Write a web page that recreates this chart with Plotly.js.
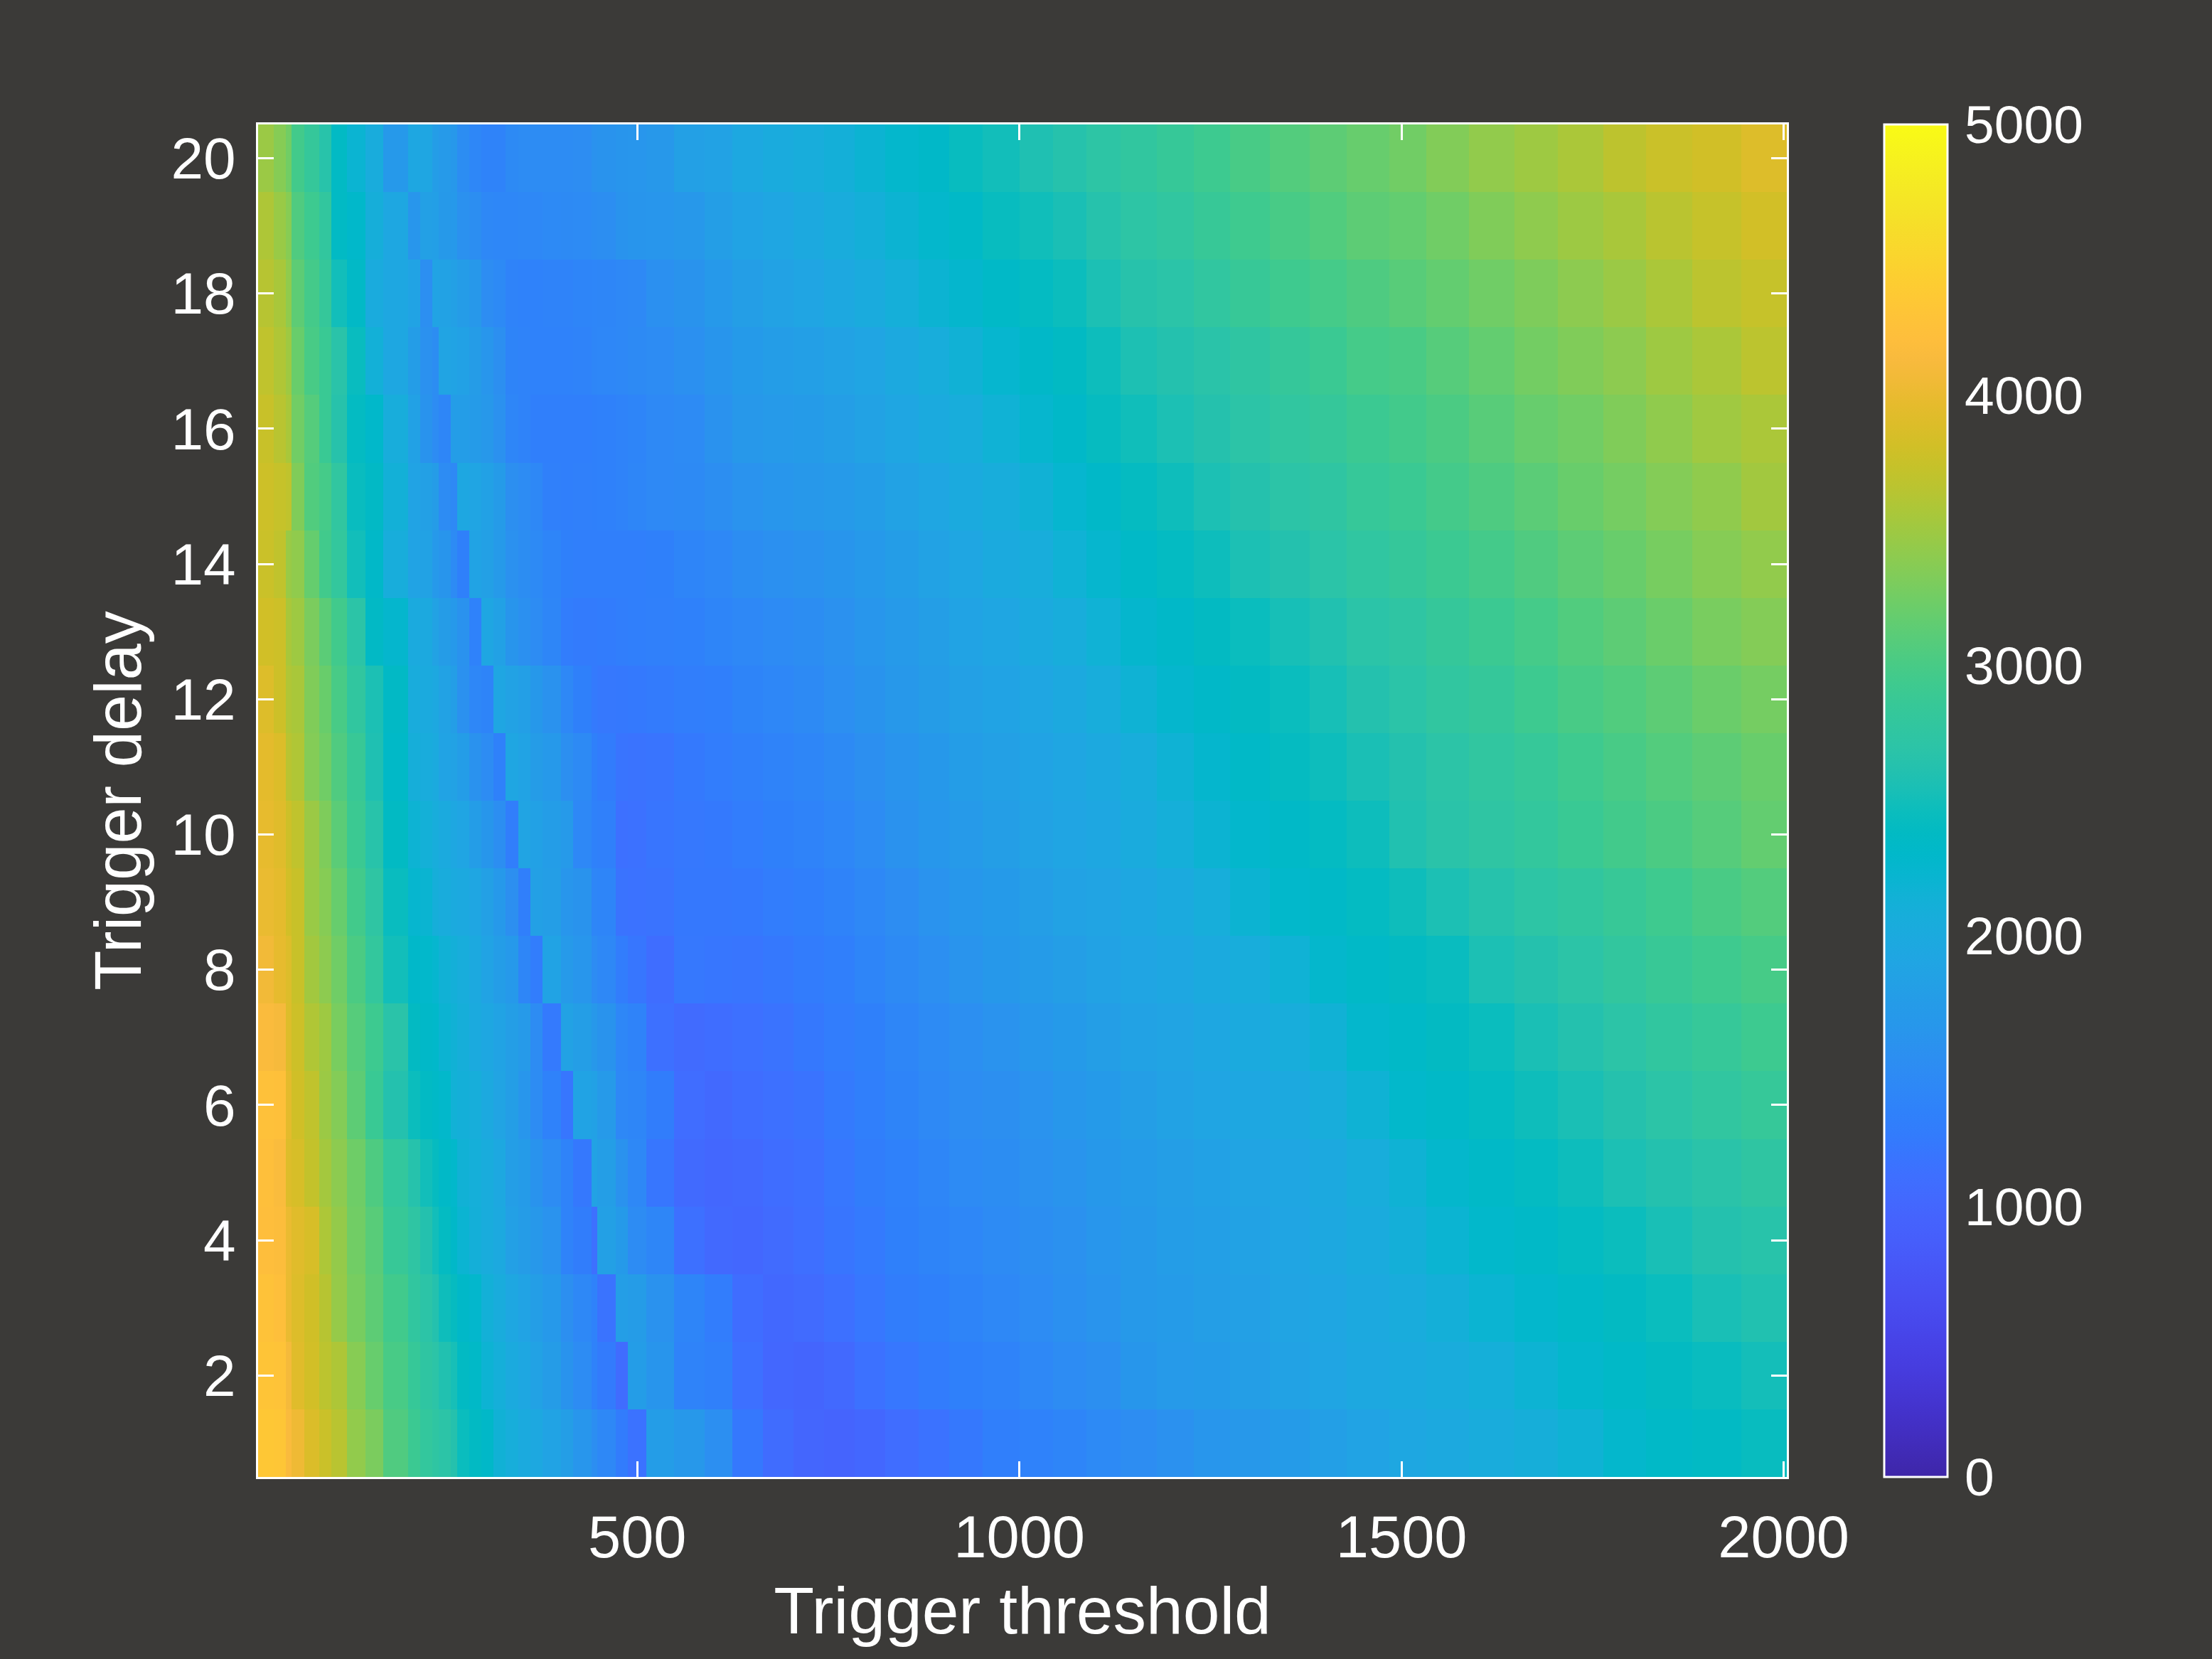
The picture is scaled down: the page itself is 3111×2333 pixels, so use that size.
<!DOCTYPE html>
<html>
<head>
<meta charset="utf-8">
<script src="https://cdn.plot.ly/plotly-3.0.1.min.js"></script>
<style>html,body{margin:0;padding:0;background:#3b3a38;}</style>
</head>
<body>
<div id="chart" style="width:3111px;height:2333px;"></div>
<script>
var thresholdEdges = [4,24,40,48,64,84,100,120,144,168,200,216,232,240,256,264,280,296,312,328,344,360,376,400,416,440,448,472,488,512,548,588,624,664,704,744,784,824,868,908,952,1000,1044,1088,1132,1180,1228,1276,1328,1380,1428,1484,1532,1588,1648,1704,1764,1820,1880,1944,2004];
var delays = [1,2,3,4,5,6,7,8,9,10,11,12,13,14,15,16,17,18,19,20];

var delay01 = [4340,4330,4150,4040,3880,3760,3650,3430,3300,3050,2900,2800,2750,2700,2630,2450,2380,2320,2150,2080,2000,1960,1880,1800,1650,1540,1450,1270,1150,1780,1680,1550,1230,1070,990,960,1000,1080,1150,1230,1310,1360,1400,1470,1520,1590,1650,1680,1740,1810,1880,1950,1990,2040,2090,2170,2270,2330,2370,2430];
var delay02 = [4300,4290,4100,3920,3820,3670,3590,3370,3190,3000,2850,2750,2700,2600,2530,2380,2330,2180,2100,2000,1950,1860,1760,1620,1500,1360,1260,1070,1780,1640,1380,1330,1120,1010,980,1030,1140,1210,1270,1340,1380,1440,1500,1560,1660,1720,1740,1800,1860,1910,1960,2000,2050,2100,2180,2270,2330,2390,2440,2510];
var delay03 = [4270,4230,4000,3900,3800,3640,3450,3280,3130,2950,2780,2700,2620,2480,2420,2320,2280,2130,2040,1950,1880,1790,1700,1560,1440,1360,1160,1790,1760,1600,1400,1280,1090,1020,1060,1120,1210,1290,1340,1390,1450,1510,1570,1630,1710,1750,1790,1830,1890,1930,1990,2050,2110,2200,2280,2340,2390,2450,2540,2600];
var delay04 = [4210,4180,4000,3920,3850,3580,3440,3250,3100,2860,2740,2620,2500,2400,2320,2200,2110,2050,1990,1820,1760,1680,1610,1380,1290,1130,1820,1730,1500,1420,1120,1030,1010,1060,1110,1190,1250,1340,1390,1430,1490,1540,1590,1650,1710,1770,1810,1860,1900,1960,2030,2110,2200,2290,2340,2400,2460,2540,2620,2660];
var delay05 = [4220,4160,3900,3850,3720,3530,3400,3230,3040,2800,2640,2500,2420,2340,2290,2150,2100,2040,1970,1800,1740,1620,1500,1370,1230,1850,1800,1600,1440,1200,1050,1000,1030,1090,1130,1210,1290,1350,1420,1490,1530,1590,1630,1690,1740,1800,1840,1890,1930,1980,2060,2170,2270,2330,2400,2470,2560,2620,2680,2750];
var delay06 = [4250,4240,3950,3800,3700,3480,3350,3130,2880,2620,2460,2370,2330,2290,2140,2110,2080,1990,1890,1800,1650,1500,1360,1200,1880,1840,1720,1450,1420,1290,1080,1030,1090,1130,1170,1250,1310,1390,1460,1520,1560,1610,1670,1730,1800,1860,1900,1950,1990,2060,2170,2290,2340,2400,2480,2550,2630,2700,2770,2840];
var delay07 = [4150,4110,3900,3780,3600,3500,3290,3090,2920,2680,2390,2320,2300,2190,2150,2090,2000,1950,1870,1800,1720,1500,1250,1860,1800,1680,1620,1430,1380,1130,1060,1090,1130,1170,1230,1280,1340,1420,1490,1550,1610,1670,1730,1790,1850,1890,1950,2000,2060,2150,2270,2330,2390,2450,2550,2620,2700,2780,2840,2920];
var delay08 = [4070,3980,3900,3750,3520,3400,3240,3020,2800,2500,2310,2290,2240,2150,2110,2060,1980,1880,1770,1700,1420,1280,1870,1720,1650,1500,1450,1280,1200,1090,1220,1200,1190,1230,1270,1320,1400,1480,1550,1630,1690,1740,1790,1850,1900,1950,2000,2060,2160,2270,2330,2390,2440,2560,2630,2700,2790,2870,2930,2990];
var delay09 = [4000,3960,3820,3750,3470,3360,3190,2960,2740,2440,2240,2210,2090,2050,2010,1980,1930,1820,1700,1560,1310,1830,1790,1650,1620,1420,1400,1160,1150,1160,1230,1230,1240,1280,1320,1370,1440,1520,1610,1670,1730,1800,1850,1890,1950,2010,2080,2190,2290,2340,2400,2480,2560,2640,2720,2780,2860,2930,3010,3070];
var delay10 = [3980,3920,3780,3700,3480,3320,3120,2900,2660,2380,2180,2120,2060,2000,1950,1900,1780,1660,1540,1300,1890,1840,1780,1720,1450,1350,1330,1130,1140,1190,1220,1240,1280,1340,1380,1430,1510,1600,1670,1720,1790,1850,1900,1950,2020,2100,2190,2280,2340,2400,2470,2600,2680,2740,2800,2880,2960,3020,3090,3170];
var delay11 = [3950,3890,3650,3600,3350,3240,3050,2870,2580,2340,2090,2050,2010,1880,1850,1780,1600,1500,1350,1930,1880,1760,1700,1560,1480,1340,1270,1180,1170,1180,1240,1280,1330,1380,1420,1480,1560,1630,1690,1770,1830,1880,1930,1990,2070,2170,2260,2330,2410,2470,2550,2620,2700,2770,2840,2930,3000,3070,3130,3200];
var delay12 = [3900,3780,3600,3560,3330,3200,3000,2780,2560,2360,2050,2000,1960,1850,1800,1580,1430,1390,1920,1860,1810,1690,1600,1440,1340,1250,1220,1230,1240,1260,1300,1320,1390,1430,1480,1550,1620,1680,1760,1830,1880,1930,1990,2070,2170,2260,2320,2390,2450,2530,2620,2690,2770,2830,2920,3000,3060,3130,3210,3270];
var delay13 = [3810,3780,3560,3500,3300,3120,2950,2700,2360,2260,2000,1980,1850,1760,1700,1600,1360,1930,1840,1640,1570,1500,1420,1280,1260,1260,1270,1300,1310,1330,1350,1400,1450,1490,1530,1590,1650,1720,1800,1870,1930,2000,2070,2160,2260,2320,2390,2450,2530,2600,2690,2740,2830,2900,2980,3060,3130,3210,3290,3350];
var delay14 = [3760,3700,3470,3420,3180,2950,2800,2500,2320,2060,1880,1850,1700,1640,1490,1340,1880,1820,1720,1590,1530,1470,1400,1340,1320,1310,1310,1320,1320,1340,1400,1450,1530,1570,1600,1640,1700,1770,1850,1930,2000,2070,2160,2250,2330,2400,2470,2560,2620,2690,2760,2830,2900,2970,3050,3130,3200,3280,3360,3430];
var delay15 = [3780,3740,3700,3330,3060,2980,2770,2440,2360,2130,1880,1830,1760,1500,1460,1940,1900,1840,1740,1560,1500,1440,1330,1320,1330,1340,1350,1380,1420,1460,1480,1540,1610,1650,1680,1720,1780,1860,1930,2000,2070,2150,2240,2320,2410,2480,2560,2630,2700,2750,2840,2890,2970,3040,3120,3200,3270,3350,3420,3520];
var delay16 = [3750,3650,3560,3250,3080,2880,2650,2400,2300,2060,1840,1620,1500,1420,1780,1770,1740,1680,1590,1420,1370,1320,1310,1310,1320,1340,1350,1370,1400,1460,1490,1600,1680,1720,1750,1790,1850,1930,2010,2070,2160,2250,2320,2420,2490,2560,2630,2700,2770,2830,2900,2960,3020,3100,3190,3250,3330,3420,3510,3570];
var delay17 = [3700,3600,3500,3200,3000,2880,2680,2440,2130,1950,1780,1580,1530,1890,1870,1840,1760,1650,1560,1390,1370,1360,1360,1360,1370,1420,1430,1440,1480,1500,1570,1640,1730,1780,1810,1850,1910,1990,2070,2150,2240,2320,2380,2470,2570,2620,2680,2750,2830,2890,2980,3010,3090,3170,3260,3330,3400,3500,3570,3670];
var delay18 = [3640,3560,3420,3130,2970,2830,2500,2350,2030,1950,1870,1550,1870,1850,1820,1760,1680,1520,1470,1370,1360,1360,1370,1380,1400,1410,1420,1440,1460,1570,1620,1700,1800,1860,1900,1960,2020,2100,2190,2260,2330,2400,2460,2560,2650,2690,2770,2860,2930,2980,3040,3100,3170,3240,3320,3400,3480,3570,3670,3740];
var delay19 = [3590,3470,3370,3050,2920,2790,2370,2300,2090,1950,1650,1830,1810,1710,1700,1580,1540,1450,1430,1430,1440,1450,1470,1480,1490,1530,1540,1620,1640,1650,1680,1800,1880,1930,1980,2040,2110,2190,2270,2340,2430,2490,2550,2640,2720,2770,2860,2930,3000,3060,3130,3170,3240,3330,3410,3490,3560,3660,3740,3820];
var delay20 = [3480,3360,3250,2960,2830,2660,2370,2200,2040,1700,1950,1930,1780,1720,1680,1530,1430,1370,1380,1480,1500,1500,1500,1510,1520,1600,1620,1640,1650,1680,1820,1860,1960,2020,2060,2110,2190,2270,2320,2430,2500,2580,2640,2720,2780,2850,2920,3000,3070,3130,3190,3250,3340,3430,3500,3570,3680,3760,3810,3900];

var xTickValues = [500,1000,1500,2000];
var yTickValues = [2,4,6,8,10,12,14,16,18,20];
var barTickValues = [0,1000,2000,3000,4000,5000];

var parula = [[0.2422,0.1504,0.6603],[0.2504,0.1650,0.7076],[0.2578,0.1818,0.7511],[0.2647,0.1978,0.7952],[0.2706,0.2147,0.8364],[0.2751,0.2342,0.8710],[0.2783,0.2559,0.8991],[0.2803,0.2782,0.9221],[0.2813,0.3006,0.9414],[0.2810,0.3228,0.9579],[0.2795,0.3447,0.9717],[0.2760,0.3667,0.9829],[0.2699,0.3892,0.9906],[0.2602,0.4123,0.9952],[0.2440,0.4358,0.9988],[0.2206,0.4603,0.9973],[0.1963,0.4847,0.9892],[0.1834,0.5074,0.9798],[0.1786,0.5289,0.9682],[0.1764,0.5499,0.9520],[0.1687,0.5703,0.9359],[0.1540,0.5902,0.9218],[0.1460,0.6091,0.9079],[0.1380,0.6276,0.8973],[0.1248,0.6459,0.8883],[0.1113,0.6635,0.8763],[0.0952,0.6798,0.8598],[0.0689,0.6948,0.8394],[0.0297,0.7082,0.8163],[0.0036,0.7203,0.7917],[0.0067,0.7312,0.7660],[0.0433,0.7411,0.7394],[0.0964,0.7500,0.7120],[0.1408,0.7584,0.6842],[0.1717,0.7670,0.6554],[0.1938,0.7758,0.6251],[0.2161,0.7843,0.5923],[0.2470,0.7918,0.5567],[0.2906,0.7973,0.5188],[0.3406,0.8008,0.4789],[0.3909,0.8029,0.4354],[0.4456,0.8024,0.3909],[0.5044,0.7993,0.3480],[0.5616,0.7942,0.3045],[0.6174,0.7876,0.2612],[0.6720,0.7793,0.2227],[0.7242,0.7698,0.1910],[0.7738,0.7598,0.1646],[0.8203,0.7498,0.1535],[0.8634,0.7406,0.1596],[0.9035,0.7330,0.1774],[0.9393,0.7288,0.2100],[0.9728,0.7298,0.2394],[0.9956,0.7434,0.2371],[0.9970,0.7659,0.2199],[0.9952,0.7893,0.2028],[0.9892,0.8136,0.1885],[0.9786,0.8386,0.1766],[0.9676,0.8639,0.1643],[0.9610,0.8890,0.1537],[0.9597,0.9135,0.1423],[0.9628,0.9373,0.1265],[0.9691,0.9606,0.1064],[0.9769,0.9839,0.0805]];

var colorscale = parula.map(function (c, i) {
  return [i / (parula.length - 1), 'rgb(' + c.map(function (v) { return Math.round(v * 255); }).join(',') + ')'];
});

var z = [delay01,delay02,delay03,delay04,delay05,delay06,delay07,delay08,delay09,delay10,delay11,delay12,delay13,delay14,delay15,delay16,delay17,delay18,delay19,delay20];

var BG = '#3b3a38', FG = '#ffffff', FONT = '"Liberation Sans", Arial, sans-serif';

var trace = {
  type: 'heatmap',
  x: thresholdEdges,
  y: delays,
  z: z,
  zmin: 0,
  zmax: 5000,
  zsmooth: false,
  colorscale: colorscale,
  colorbar: {
    x: 1.0637, xanchor: 'left', xpad: 0, y: 0, yanchor: 'bottom', ypad: 0,
    lenmode: 'pixels', len: 1902, thicknessmode: 'pixels', thickness: 89,
    outlinecolor: FG, outlinewidth: 3,
    ticks: 'outside', ticklen: 8, tickwidth: 1, tickcolor: 'rgba(0,0,0,0)',
    tickvals: barTickValues, ticktext: barTickValues.map(String),
    tickfont: {family: FONT, size: 75, color: FG}
  }
};

function axis(extra) {
  var a = {
    showgrid: false, zeroline: false, showline: true, linecolor: FG, linewidth: 3,
    mirror: 'ticks', ticks: 'inside', ticklen: 22, tickwidth: 3, tickcolor: FG
  };
  for (var k in extra) a[k] = extra[k];
  return a;
}

var layout = {
  width: 3111, height: 2333,
  margin: {l: 363, r: 598, t: 175, b: 256, pad: 0},
  paper_bgcolor: BG, plot_bgcolor: BG,
  font: {family: FONT, color: FG},
  xaxis: axis({
    range: [4, 2004], tickmode: 'array', tickvals: xTickValues, ticktext: xTickValues.map(String),
    tickfont: {family: FONT, size: 83, color: FG},
    ticklabelstandoff: 10,
    title: {text: 'Trigger threshold', font: {family: FONT, size: 93, color: FG}, standoff: 26}
  }),
  yaxis: axis({
    range: [0.5, 20.5], tickmode: 'array', tickvals: yTickValues, ticktext: yTickValues.map(String),
    tickfont: {family: FONT, size: 82, color: FG},
    ticklabelstandoff: 12,
    title: {text: 'Trigger delay', font: {family: FONT, size: 92, color: FG}, standoff: 12}
  })
};

Plotly.newPlot('chart', [trace], layout, {displayModeBar: false, responsive: false});
</script>
</body>
</html>
